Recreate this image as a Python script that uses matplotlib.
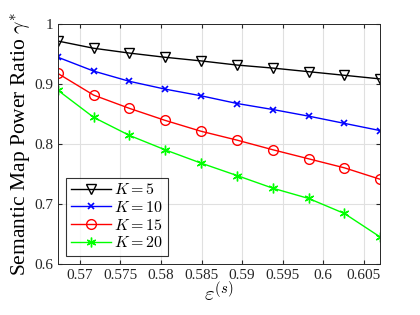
import matplotlib
matplotlib.use("Agg")
from matplotlib import pyplot as plt

eps_s = [0.5673, 0.5717, 0.5761, 0.5805, 0.5849, 0.5894, 0.5938, 0.5982, 0.6026, 0.6070]
gamma_k5 = [0.971, 0.959, 0.951, 0.944, 0.938, 0.931, 0.926, 0.920, 0.914, 0.908]
gamma_k10 = [0.944, 0.921, 0.904, 0.891, 0.880, 0.867, 0.857, 0.846, 0.834, 0.822]
gamma_k15 = [0.917, 0.881, 0.859, 0.839, 0.821, 0.806, 0.790, 0.775, 0.760, 0.741]
gamma_k20 = [0.889, 0.844, 0.814, 0.790, 0.768, 0.747, 0.726, 0.709, 0.684, 0.645]
labels = ['$K=5$', '$K=10$', '$K=15$', '$K=20$']
xticks = [0.57, 0.575, 0.58, 0.585, 0.59, 0.595, 0.6, 0.605]
xticklabels = ['0.57', '0.575', '0.58', '0.585', '0.59', '0.595', '0.6', '0.605']
yticks = [0.6, 0.7, 0.8, 0.9, 1.0]
yticklabels = ['0.6', '0.7', '0.8', '0.9', '1']

plt.rcParams['font.family'] = ['Liberation Serif', 'DejaVu Serif']
plt.rcParams['mathtext.fontset'] = 'cm'

fig = plt.figure(figsize=(4.2, 3.15), dpi=100)
ax = fig.add_axes([0.138, 0.162, 0.767, 0.763])

ax.plot(eps_s, gamma_k5, color='k', lw=1.0, marker='v', ms=7, mfc='none', mew=1.0, label=labels[0])
ax.plot(eps_s, gamma_k10, color='b', lw=1.0, marker='x', ms=5, mew=1.2, label=labels[1])
ax.plot(eps_s, gamma_k15, color='r', lw=1.0, marker='o', ms=7, mfc='none', mew=1.0, label=labels[2])
ax.plot(eps_s, gamma_k20, color=(0, 1, 0), lw=1.0, marker=(6, 2, 0), ms=7, mew=1.0, label=labels[3])

ax.set_xlim(eps_s[0], eps_s[-1])
ax.set_ylim(0.6, 1.0)
ax.set_xticks(xticks)
ax.set_xticklabels(xticklabels)
ax.set_yticks(yticks)
ax.set_yticklabels(yticklabels)
ax.tick_params(direction='in', top=True, right=True, labelsize=11, colors='#262626', length=3)
ax.grid(True, color='#e0e0e0', lw=0.8)
ax.set_axisbelow(True)
for s in ax.spines.values():
    s.set_color('#262626')
    s.set_linewidth(0.7)

ax.set_xlabel(r'$\varepsilon^{(s)}$', fontsize=15, labelpad=0)
ax.set_ylabel(r'Semantic Map Power Ratio $\gamma^{*}$', fontsize=15.5, labelpad=1)

leg = ax.legend(loc='lower left', fontsize=11.5, frameon=True, fancybox=False, edgecolor='k',
                handlelength=2.5, handletextpad=0.2, borderpad=0.3, labelspacing=0.1,
                borderaxespad=0.5)
leg.get_frame().set_linewidth(0.8)

fig.savefig('out.png', dpi=100)
